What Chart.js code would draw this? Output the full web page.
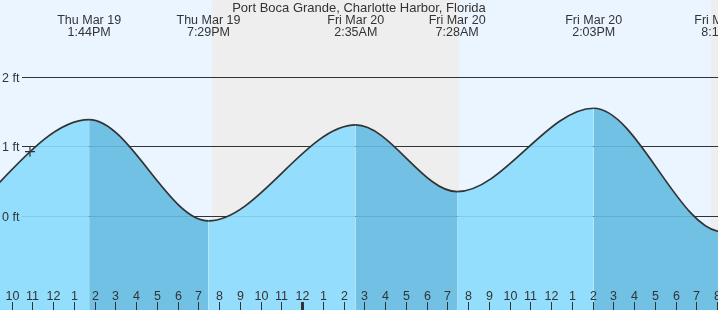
<!DOCTYPE html>
<html>
<head>
<meta charset="utf-8">
<script src="https://cdn.jsdelivr.net/npm/chart.js@4"></script>
<style>
  html, body { margin: 0; padding: 0; background: #fff; }
  #tideChart { display: block; }
</style>
</head>
<body>
<canvas id="tideChart" width="718" height="310"></canvas>
<script>
"use strict";

// times are hours after Thu Mar 19 00:00, heights in feet
const tideTimes = [-1.5, 5.0, 13.733, 19.483, 26.583, 31.467, 38.05, 44.27, 50.5];
const tideHeights = [1.2, -0.45, 1.386, -0.07, 1.31, 0.35, 1.55, -0.23, 1.3];

// labels for the extremes that are on screen (tideTimes index 2..7)
const extremeDays = ["Thu Mar 19", "Thu Mar 19", "Fri Mar 20", "Fri Mar 20", "Fri Mar 20", "Fri Mar 20"];
const extremeClock = ["1:44PM", "7:29PM", "2:35AM", "7:28AM", "2:03PM", "8:16PM"];

const nightStart = [19.65, 43.7];
const nightEnd = [31.56, 56];

const nowTime = [10.88];
const nowHeight = [0.925];

const gridFeet = [0, 1, 2];
const gridLabels = ["0 ft", "1 ft", "2 ft"];

const firstHour = 10;
const hourLabels = ["10", "11", "12", "1", "2", "3", "4", "5", "6", "7", "8", "9", "10", "11",
  "12", "1", "2", "3", "4", "5", "6", "7", "8", "9", "10", "11", "12", "1", "2", "3", "4",
  "5", "6", "7", "8"];
const midnightHour = 24;

const titleText = "Port Boca Grande, Charlotte Harbor, Florida";

const FONT = '"Liberation Sans", Arial, sans-serif';
const TEXT = "#333";

const tideDecor = {
  id: "tideDecor",
  beforeDatasetsDraw(chart) {
    const { ctx, chartArea: a, scales: { x, y } } = chart;
    ctx.save();
    ctx.fillStyle = "#ebf5ff";
    ctx.fillRect(a.left, a.top, a.width, a.height);
    ctx.fillStyle = "#eeeeee";
    nightStart.forEach((s, i) => {
      const x0 = x.getPixelForValue(s);
      const x1 = x.getPixelForValue(nightEnd[i]);
      ctx.fillRect(Math.round(x0), a.top, Math.round(x1 - x0), a.height);
    });
    ctx.strokeStyle = "#333";
    ctx.lineWidth = 1;
    gridFeet.forEach(v => {
      const py = Math.round(y.getPixelForValue(v)) + 0.5;
      ctx.beginPath();
      ctx.moveTo(22, py);
      ctx.lineTo(a.right, py);
      ctx.stroke();
    });
    ctx.restore();
  },
  afterDatasetsDraw(chart) {
    const { ctx, scales: { x, y } } = chart;
    ctx.save();
    ctx.fillStyle = TEXT;

    // y labels
    ctx.font = "12.5px " + FONT;
    ctx.textAlign = "left";
    ctx.textBaseline = "alphabetic";
    gridFeet.forEach((v, i) => {
      ctx.fillText(gridLabels[i], 2, Math.round(y.getPixelForValue(v)) + 5);
    });

    // hour ticks along the bottom
    ctx.textAlign = "center";
    hourLabels.forEach((lbl, i) => {
      const h = firstHour + i;
      const px = Math.round(x.getPixelForValue(h));
      if (h === midnightHour) {
        ctx.fillRect(px - 1, 302, 3, 8);
      } else {
        ctx.fillRect(px, 302, 1, 8);
      }
      ctx.fillText(lbl, px + 0.5, 300);
    });

    // extreme labels
    extremeDays.forEach((d, i) => {
      const px = x.getPixelForValue(tideTimes[i + 2]);
      ctx.fillText(d, px, 24);
      ctx.fillText(extremeClock[i], px, 36);
    });

    ctx.font = "13px " + FONT;
    ctx.fillText(titleText, 359, 12);
    ctx.restore();
  }
};

const risingFill = "rgba(138, 218, 253, 0.9)";
const fallingFill = "rgba(100, 187, 226, 0.9)";

new Chart(document.getElementById("tideChart"), {
  type: "line",
  data: {
    datasets: [
      {
        order: 1,
        data: tideTimes.map((t, i) => ({ x: t, y: tideHeights[i] })),
        borderColor: "#333",
        borderWidth: 1.7,
        pointRadius: 0,
        cubicInterpolationMode: "monotone",
        fill: "start",
        backgroundColor: risingFill,
        segment: {
          backgroundColor: c => (c.p1.parsed.y > c.p0.parsed.y ? risingFill : fallingFill)
        }
      },
      {
        order: 0,
        data: nowTime.map((t, i) => ({ x: t, y: nowHeight[i] })),
        showLine: false,
        pointStyle: "cross",
        pointRadius: 5,
        pointBorderColor: "#333",
        pointBorderWidth: 1.2,
        fill: false
      }
    ]
  },
  options: {
    responsive: false,
    animation: false,
    events: [],
    layout: { padding: 0, autoPadding: false },
    elements: { line: { capBezierPoints: false } },
    plugins: {
      legend: { display: false },
      tooltip: { enabled: false },
      title: { display: false }
    },
    scales: {
      x: { type: "linear", min: 9.436, max: 44.04, display: false },
      y: { min: -1.353, max: 3.108, display: false }
    }
  },
  plugins: [tideDecor]
});
</script>
</body>
</html>
